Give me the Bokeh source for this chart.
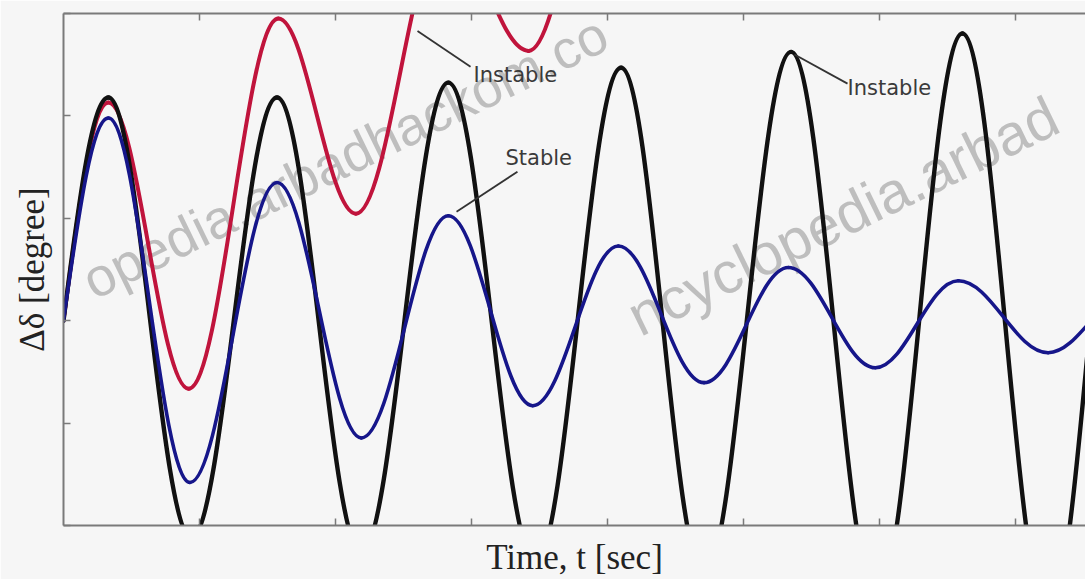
from bokeh.plotting import figure
from bokeh.models import LinearAxis, FixedTicker, Label, Range1d
from bokeh.embed import file_html
from bokeh.resources import INLINE

# ---- data (extrema of each trace) ----
# time [sec] and angle deviation [degree]
red_t   = [0.0, 0.33, 0.92, 1.58, 2.15, 2.81, 3.42, 4.06]
red_d   = [0.0, 42.6, -13.3, 59.0, 20.9, 77.1, 52.7, 101.6]

black_t = [0.0, 0.33, 0.94, 1.57, 2.19, 2.83, 3.47, 4.10, 4.71, 5.35, 5.98, 6.61, 7.24, 7.87]
black_d = [0.0, 43.6, -42.4, 43.6, -45.3, 46.5, -47.3, 49.4, -49.8, 52.5, -54.3, 56.1, -57.6, 59.6]

blue_t  = [0.0, 0.33, 0.93, 1.57, 2.19, 2.83, 3.45, 4.08, 4.71, 5.33, 5.97, 6.58, 7.24, 7.86]
blue_d  = [0.0, 39.6, -31.6, 27.0, -22.9, 20.5, -16.6, 14.6, -12.1, 10.4, -9.2, 7.8, -6.25, 5.9]

x_ticks = [1, 2, 3, 4, 5, 6, 7]
y_ticks = [-40, -20, 0, 20, 40, 60]

annotations = ["Instable", "Stable", "Instable"]
# faint watermark: only the parts visible in the picture
watermark_parts = ["opedia.arbadhackom.co", "ncyclopedia.arbad"]

# ---- layout / style ----
BG = "#f6f6f6"
p = figure(width=1085, height=579, output_backend="svg", toolbar_location=None,
           x_range=Range1d(0, 7.515), y_range=Range1d(-40, 60),
           min_border_left=63, min_border_right=0, min_border_top=13, min_border_bottom=54,
           background_fill_color=BG, border_fill_color=BG, outline_line_color=None)
p.grid.visible = False

bottom_axis = p.below[0]
left_axis = p.left[0]
top_axis = LinearAxis()
p.add_layout(top_axis, "above")

for ax, ticks in [(bottom_axis, x_ticks), (left_axis, y_ticks), (top_axis, x_ticks)]:
    ax.ticker = FixedTicker(ticks=ticks)
    ax.major_label_overrides = {t: "" for t in ticks}
    ax.axis_line_color = "#7a7a7a"
    ax.axis_line_width = 2
    ax.major_tick_in = 7
    ax.major_tick_out = 0
    ax.minor_tick_in = 0
    ax.minor_tick_out = 0
    ax.major_tick_line_color = "#7a7a7a"
    ax.major_tick_line_width = 1.5
    ax.major_label_text_color = None
    ax.major_label_text_font_size = "1px"
    ax.major_label_standoff = 0

for ax, lab, so in [(bottom_axis, "Time, t [sec]", 12), (left_axis, "Δδ [degree]", 12)]:
    ax.axis_label = lab
    ax.axis_label_text_font = "Liberation Serif"
    ax.axis_label_text_font_size = "35px"
    ax.axis_label_text_font_style = "normal"
    ax.axis_label_text_color = "#222222"
    ax.axis_label_standoff = so

# ---- watermark (faint, under the curves) ----
for txt, (cx, cy), fs in zip(watermark_parts, [(2.07, 32.0), (5.73, 20.5)], ["54px", "58px"]):
    p.add_layout(Label(x=cx, y=cy, text=txt, angle=26, angle_units="deg",
                       text_align="center", text_baseline="middle",
                       text_font="Liberation Sans", text_font_size=fs,
                       text_color="#9a9a9a", text_alpha=0.6, level="underlay"))


def segments(t, d):
    x0, y0, x1, y1, cx0, cy0, cx1, cy1 = [], [], [], [], [], [], [], []
    k = 0.3634
    for i in range(len(t) - 1):
        ta, tb, da, db = t[i], t[i + 1], d[i], d[i + 1]
        dt, dd = tb - ta, db - da
        x0.append(ta); y0.append(da); x1.append(tb); y1.append(db)
        if i == 0:
            cx0.append(ta + 0.36 * dt); cy0.append(da + 0.565 * dd)
            cx1.append(ta + 0.65 * dt); cy1.append(db)
        else:
            cx0.append(ta + k * dt); cy0.append(da)
            cx1.append(tb - k * dt); cy1.append(db)
    return dict(x0=x0, y0=y0, x1=x1, y1=y1, cx0=cx0, cy0=cy0, cx1=cx1, cy1=cy1)


for t, d, col, lw in [(red_t, red_d, "#c0143c", 4),
                      (black_t, black_d, "#111111", 4.4),
                      (blue_t, blue_d, "#16168a", 3.6)]:
    s = segments(t, d)
    p.bezier(x0=s["x0"], y0=s["y0"], x1=s["x1"], y1=s["y1"],
             cx0=s["cx0"], cy0=s["cy0"], cx1=s["cx1"], cy1=s["cy1"],
             line_color=col, line_width=lw, line_cap="round")

# ---- annotations with leader lines ----
ann_pos = [(3.015, 47.9), (3.25, 31.8), (5.765, 45.5)]
leaders = [((2.603, 2.993), (56.6, 49.6)), ((3.338, 2.890), (29.1, 21.3)), ((5.375, 5.765), (52.0, 46.3))]
for (lx, ly) in leaders:
    p.line(list(lx), list(ly), line_color="#333333", line_width=1.8)
for txt, (ax_, ay_) in zip(annotations, ann_pos):
    p.add_layout(Label(x=ax_, y=ay_, text=txt, text_align="left", text_baseline="middle",
                       text_font="DejaVu Sans", text_font_size="21px", text_color="#3a3a3a"))

open("out.html", "w").write(file_html(p, INLINE, "chart"))
